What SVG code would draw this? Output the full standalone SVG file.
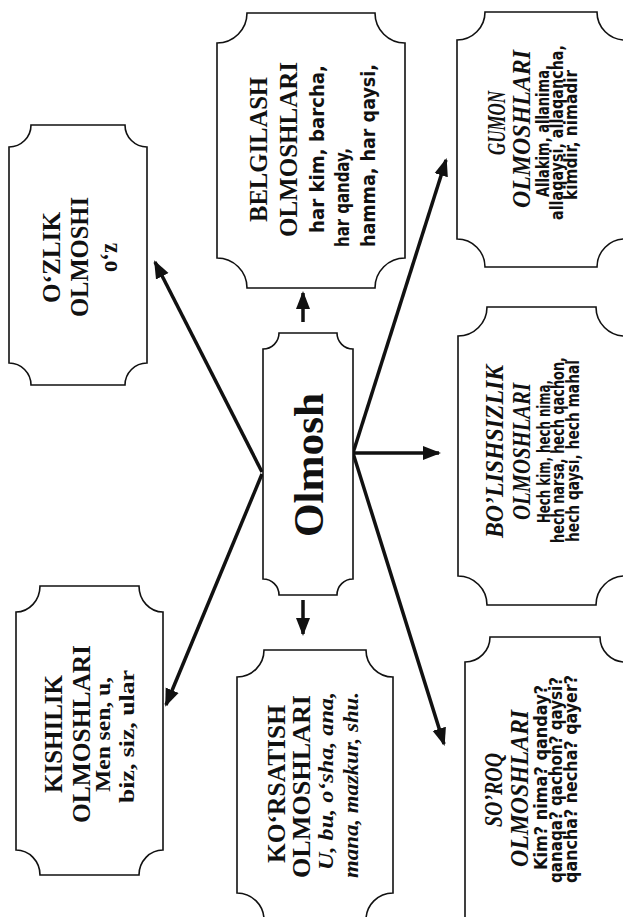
<svg xmlns="http://www.w3.org/2000/svg" width="623" height="917" viewBox="0 0 623 917">
<style>
.box{fill:#fff;stroke:#111;stroke-width:1.6}
.t{font-family:"Liberation Serif","Times New Roman",serif;font-weight:bold;fill:#111}
.ti{font-family:"Liberation Serif","Times New Roman",serif;font-weight:bold;font-style:italic;fill:#111}
.b{font-family:"DejaVu Sans Condensed","Liberation Sans",sans-serif;font-weight:bold;fill:#111}
.c{stroke:#111;stroke-width:3.5;fill:none;marker-end:url(#ah)}
</style>
<defs>
<marker id="ah" markerUnits="userSpaceOnUse" markerWidth="20" markerHeight="16" refX="16" refY="0" orient="auto" viewBox="0 -8 20 16">
<path d="M0,-7 L18,0 L0,7 Z" fill="#111"/>
</marker>
</defs>
<rect width="623" height="917" fill="#fff"/>
<g id="connectors">
<line class="c" x1="262" y1="472" x2="155" y2="262"/>
<line class="c" x1="262" y1="474" x2="166" y2="705"/>
<line class="c" x1="303" y1="322" x2="303" y2="293"/>
<line class="c" x1="303" y1="600" x2="303" y2="634"/>
<line class="c" x1="353" y1="453" x2="446" y2="160"/>
<line class="c" x1="353" y1="453" x2="439" y2="453"/>
<line class="c" x1="353" y1="453" x2="444" y2="744"/>
</g>
<g id="olmosh">
<path class="box" d="M279,333 L337,333 A16,16 0 0 0 353,349 L353,579 A16,16 0 0 0 337,595 L279,595 A16,16 0 0 0 263,579 L263,349 A16,16 0 0 0 279,333 Z"/>
<text class="t" font-size="42" transform="rotate(-90)" x="-537" y="323" textLength="144" lengthAdjust="spacingAndGlyphs">Olmosh</text>
</g>
<g id="ozlik">
<path class="box" d="M31,125 L125,125 A22,22 0 0 0 147,147 L147,363 A22,22 0 0 0 125,385 L31,385 A22,22 0 0 0 9,363 L9,147 A22,22 0 0 0 31,125 Z"/>
<g transform="rotate(-90)">
<text class="t" font-size="25" x="-303" y="60" textLength="91" lengthAdjust="spacingAndGlyphs">O‘ZLIK</text>
<text class="t" font-size="25" x="-317" y="88" textLength="120" lengthAdjust="spacingAndGlyphs">OLMOSHI</text>
<text class="t" font-size="25" x="-272" y="117" textLength="29" lengthAdjust="spacingAndGlyphs">o‘z</text>
</g>
</g>
<g id="belgilash">
<path class="box" d="M247,13 L375,13 A30,30 0 0 0 405,43 L405,258 A30,30 0 0 0 375,288 L247,288 A30,30 0 0 0 217,258 L217,43 A30,30 0 0 0 247,13 Z"/>
<g transform="rotate(-90)">
<text class="t" font-size="25" x="-222" y="267" textLength="145" lengthAdjust="spacingAndGlyphs">BELGILASH</text>
<text class="t" font-size="25" x="-237" y="297" textLength="175" lengthAdjust="spacingAndGlyphs">OLMOSHLARI</text>
<text class="b" font-size="19" x="-233" y="324" textLength="168" lengthAdjust="spacingAndGlyphs">har kim, barcha,</text>
<text class="b" font-size="19" x="-247" y="349" textLength="99" lengthAdjust="spacingAndGlyphs">har qanday,</text>
<text class="b" font-size="19" x="-247" y="375" textLength="183" lengthAdjust="spacingAndGlyphs">hamma, har qaysi,</text>
</g>
</g>
<g id="gumon">
<path class="box" d="M485,12 L597,12 A28,28 0 0 0 625,40 L625,239 A28,28 0 0 0 597,267 L485,267 A28,28 0 0 0 457,239 L457,40 A28,28 0 0 0 485,12 Z"/>
<g transform="rotate(-90)">
<text class="ti" font-size="25" x="-155" y="505" textLength="64" lengthAdjust="spacingAndGlyphs">GUMON</text>
<text class="ti" font-size="25" x="-208" y="530" textLength="158" lengthAdjust="spacingAndGlyphs">OLMOSHLARI</text>
<text class="b" font-size="17" x="-197" y="549" textLength="132" lengthAdjust="spacingAndGlyphs">Allakim, allanima,</text>
<text class="b" font-size="17" x="-220" y="563" textLength="175" lengthAdjust="spacingAndGlyphs">allaqaysi, allaqancha,</text>
<text class="b" font-size="17" x="-200" y="577" textLength="130" lengthAdjust="spacingAndGlyphs">kimdir, nimadir</text>
</g>
</g>
<g id="bolishsizlik">
<path class="box" d="M487,307 L596,307 A29,29 0 0 0 625,336 L625,576 A29,29 0 0 0 596,605 L487,605 A29,29 0 0 0 458,576 L458,336 A29,29 0 0 0 487,307 Z"/>
<g transform="rotate(-90)">
<text class="ti" font-size="25" x="-538" y="503" textLength="173" lengthAdjust="spacingAndGlyphs">BO’LISHSIZLIK</text>
<text class="ti" font-size="25" x="-520" y="530" textLength="137" lengthAdjust="spacingAndGlyphs">OLMOSHLARI</text>
<text class="b" font-size="17" x="-523" y="550" textLength="143" lengthAdjust="spacingAndGlyphs">Hech kim, hech nima,</text>
<text class="b" font-size="17" x="-543" y="564" textLength="186" lengthAdjust="spacingAndGlyphs">hech narsa, hech qachon,</text>
<text class="b" font-size="17" x="-542" y="579" textLength="182" lengthAdjust="spacingAndGlyphs">hech qaysi, hech mahal</text>
</g>
</g>
<g id="soroq">
<path class="box" d="M490,637 L600,637 A25,25 0 0 0 625,662 L625,920 A25,25 0 0 0 600,945 L490,945 A25,25 0 0 0 465,920 L465,662 A25,25 0 0 0 490,637 Z"/>
<g transform="rotate(-90)">
<text class="ti" font-size="25" x="-827" y="502" textLength="74" lengthAdjust="spacingAndGlyphs">SO’ROQ</text>
<text class="ti" font-size="25" x="-867" y="528" textLength="157" lengthAdjust="spacingAndGlyphs">OLMOSHLARI</text>
<text class="b" font-size="17" x="-870" y="547" textLength="185" lengthAdjust="spacingAndGlyphs">Kim? nima? qanday?</text>
<text class="b" font-size="17" x="-883" y="562" textLength="206" lengthAdjust="spacingAndGlyphs">qanaqa? qachon? qaysi?</text>
<text class="b" font-size="17" x="-883" y="577" textLength="208" lengthAdjust="spacingAndGlyphs">qancha? necha? qayer?</text>
</g>
</g>
<g id="korsatish">
<path class="box" d="M264,650 L366,650 A27,27 0 0 0 393,677 L393,893 A27,27 0 0 0 366,920 L264,920 A27,27 0 0 0 237,893 L237,677 A27,27 0 0 0 264,650 Z"/>
<g transform="rotate(-90)">
<text class="t" font-size="25" x="-863" y="285" textLength="158" lengthAdjust="spacingAndGlyphs">KO‘RSATISH</text>
<text class="t" font-size="25" x="-878" y="310" textLength="183" lengthAdjust="spacingAndGlyphs">OLMOSHLARI</text>
<text class="ti" font-size="21" x="-870" y="333" textLength="178" lengthAdjust="spacingAndGlyphs">U, bu, o‘sha, ana,</text>
<text class="ti" font-size="21" x="-878" y="358" textLength="186" lengthAdjust="spacingAndGlyphs">mana, mazkur, shu.</text>
</g>
</g>
<g id="kishilik">
<path class="box" d="M40,586 L139,586 A24,26 0 0 0 163,612 L163,850 A24,25 0 0 0 139,875 L40,875 A24,25 0 0 0 16,850 L16,612 A24,26 0 0 0 40,586 Z"/>
<g transform="rotate(-90)">
<text class="t" font-size="25" x="-793" y="62" textLength="118" lengthAdjust="spacingAndGlyphs">KISHILIK</text>
<text class="t" font-size="25" x="-823" y="90" textLength="178" lengthAdjust="spacingAndGlyphs">OLMOSHLARI</text>
<text class="t" font-size="21" x="-792" y="110" textLength="115" lengthAdjust="spacingAndGlyphs">Men sen, u,</text>
<text class="t" font-size="21" x="-803" y="134" textLength="133" lengthAdjust="spacingAndGlyphs">biz, siz, ular</text>
</g>
</g>
</svg>
